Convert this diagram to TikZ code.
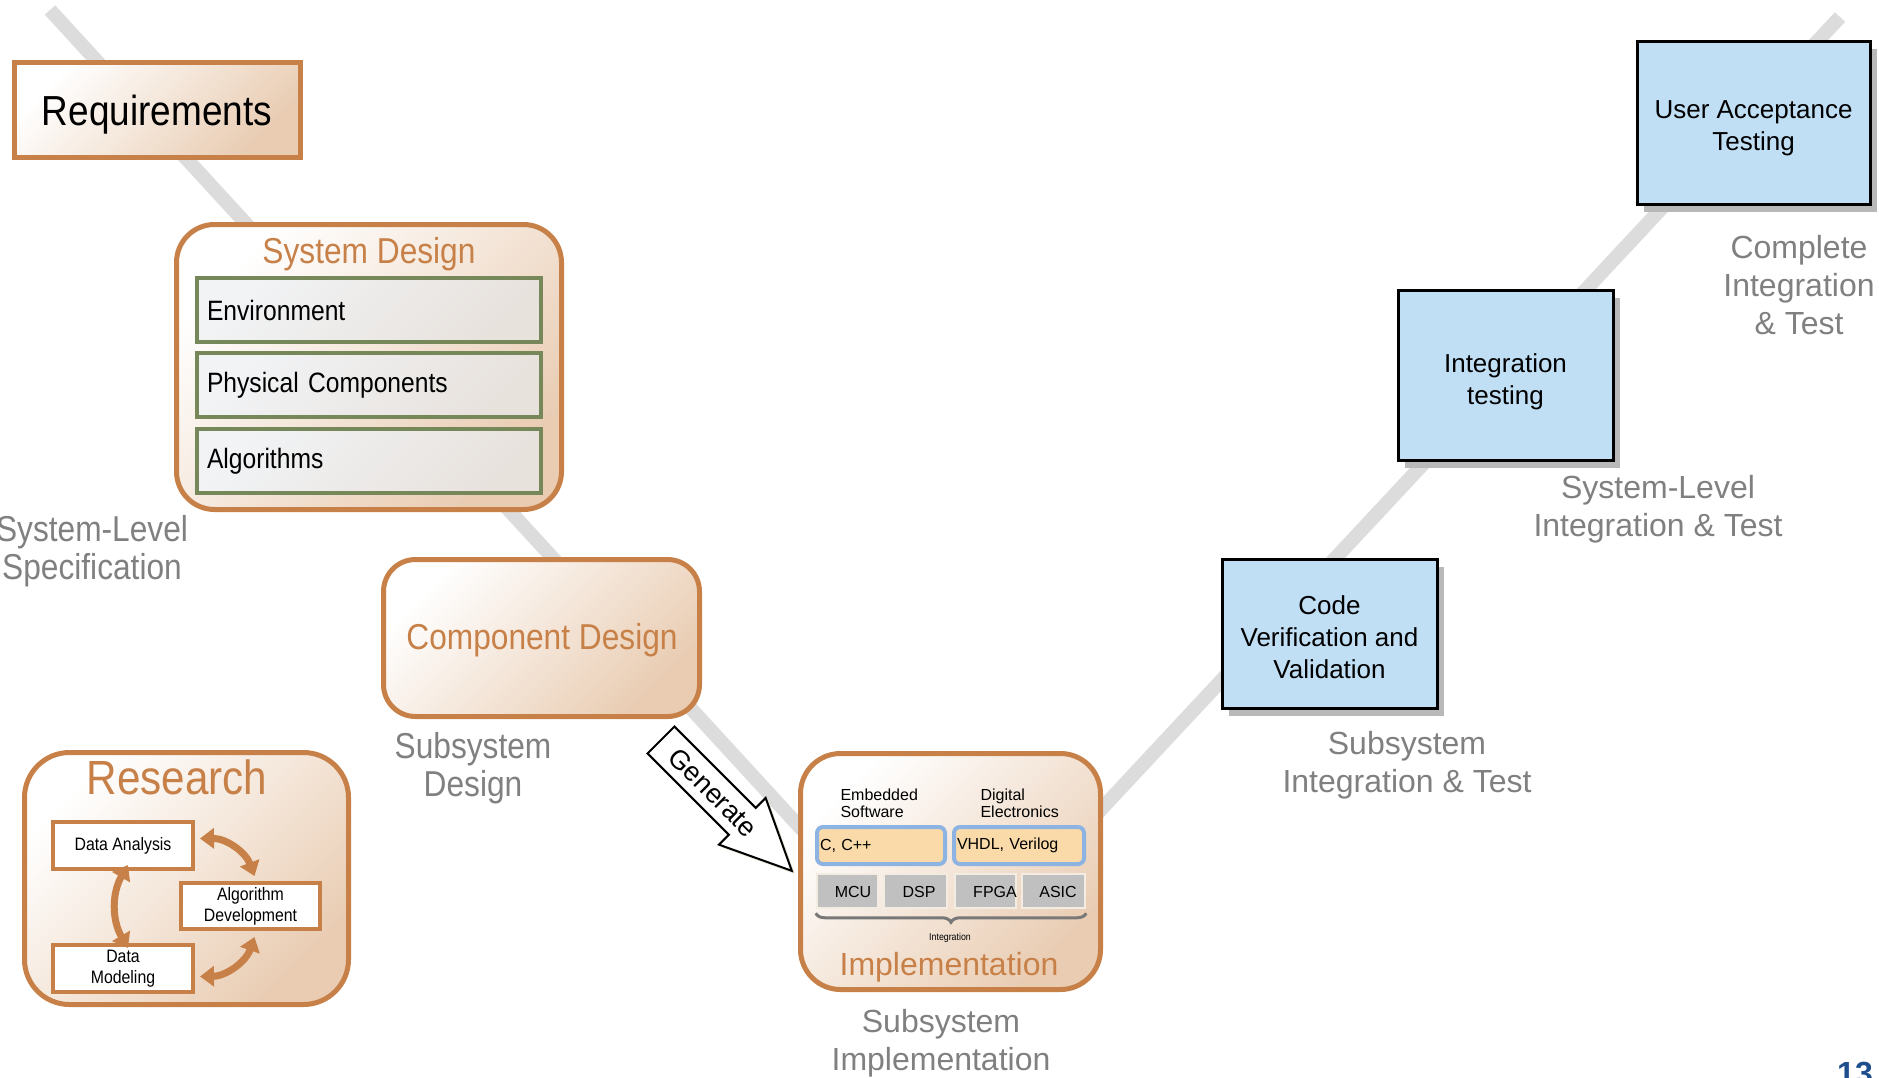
\documentclass[tikz,border=0pt]{standalone}
\usepackage{fontspec}
\setmainfont{Liberation Sans}
\newfontfamily\cond[FakeStretch=0.88]{Liberation Sans}
\usetikzlibrary{arrows.meta,shadows,decorations.pathreplacing}
\definecolor{orc}{RGB}{199,129,72}
\definecolor{tanc}{RGB}{233,204,178}
\definecolor{vgray}{RGB}{220,220,220}
\definecolor{lblgray}{RGB}{128,128,128}
\definecolor{grn}{RGB}{118,135,90}
\definecolor{innerfillA}{RGB}{241,243,245}
\definecolor{innerfillB}{RGB}{232,226,221}
\definecolor{bluefill}{RGB}{192,222,244}
\definecolor{codefill}{RGB}{250,218,168}
\definecolor{codeborder}{RGB}{141,179,226}
\definecolor{chipfill}{RGB}{192,192,192}
\definecolor{chipborder}{RGB}{242,236,226}
\definecolor{bracegray}{RGB}{120,120,120}
\definecolor{pagenum}{RGB}{31,78,140}
\definecolor{genshadow}{RGB}{230,226,210}
\begin{document}
\begin{tikzpicture}[x=1pt,y=-1pt,
  vline/.style={draw=vgray, line width=14pt},
  orbox/.style={draw=orc, line width=5pt, top color=white, bottom color=tanc, shading angle=45, inner sep=0pt},
  greenbox/.style={draw=grn, line width=4pt, top color=innerfillA, bottom color=innerfillB, shading angle=45,
     minimum height=64pt, inner xsep=10pt, inner ysep=0pt, text width=324pt, align=left,
     font={\cond\fontsize{28pt}{32pt}\selectfont}},
  resbox/.style={draw=orc, line width=4pt, fill=white, inner sep=0pt, align=center,
     font={\cond\fontsize{18pt}{21pt}\selectfont}},
  resarr/.style={draw=orc, line width=7pt, {Triangle[length=14pt,width=20pt]}-{Triangle[length=14pt,width=20pt]}},
  codebox/.style={draw=codeborder, line width=4pt, fill=codefill, rounded corners=6pt, minimum height=37pt,
     inner xsep=2pt, inner ysep=0pt, align=left, font={\fontsize{16pt}{19pt}\selectfont}},
  chip/.style={draw=chipborder, line width=2.5pt, fill=chipfill, minimum height=34pt, inner sep=0pt},
  chiptext/.style={font={\fontsize{16pt}{19pt}\selectfont}},
  bluebox/.style={draw=black, line width=3pt, fill=bluefill, align=center, inner sep=0pt,
     font={\fontsize{26pt}{32pt}\selectfont},
     drop shadow={shadow xshift=7pt, shadow yshift=-8pt, fill=black!28, opacity=1}},
  boxtext/.style={align=center, font={\fontsize{26pt}{32pt}\selectfont}},
  lbl/.style={text=lblgray, align=center, font={\fontsize{32pt}{38pt}\selectfont}},
  lblc/.style={text=lblgray, align=center, font={\cond\fontsize{36pt}{38pt}\selectfont}},
  otitle/.style={text=orc, font={\cond\fontsize{36pt}{40pt}\selectfont}},
  genarrow/.style={draw=black, line width=2pt, fill=white, line join=miter}
]
\useasboundingbox (0,0) rectangle (1879,1077);

% V shaped background line
\coordinate (vtopL) at (50,10);
\coordinate (vbot) at (941,981);
\coordinate (vtopR) at (1840,17);
\draw[vline] (vtopL) -- (vbot) -- (vtopR);

% Requirements
\node[orbox, minimum width=286pt, minimum height=95pt] (req) at (157,109.5) {};
\node[font={\cond\fontsize{42pt}{48pt}\selectfont}] (reqt) at (157,115) {Requirements};

% System Design
\node[orbox, rounded corners=38pt, minimum width=385pt, minimum height=285pt] (sysd) at (369,367) {};
\node[otitle] (sysdt) at (369,254) {System Design};
\node[greenbox] (env) at (369,310) {Environment};
\node[greenbox] (phys) at (369,385) {Physical Components};
\node[greenbox] (alg) at (369,461) {Algorithms};

% Component Design
\node[orbox, rounded corners=32pt, minimum width=316pt, minimum height=157pt] (comp) at (541.5,638) {};
\node[otitle] (compt) at (542,640) {Component Design};

% Research
\node[orbox, rounded corners=45pt, minimum width=324pt, minimum height=252pt] (res) at (186.5,878.5) {};
\node[text=orc, font={\cond\fontsize{48pt}{52pt}\selectfont}] (rest) at (177,777) {Research};
\node[resbox, minimum width=140pt, minimum height=47pt] (da) at (123,845.5) {Data Analysis};
\node[resbox, minimum width=139pt, minimum height=46pt] (ad) at (250.5,906) {Algorithm\\Development};
\node[resbox, minimum width=140pt, minimum height=47pt] (dm) at (123,968.5) {Data\\Modeling};
\draw[resarr] ([shift={(5,-7)}]da.east) to[bend left=35] ([shift={(4,-5)}]ad.north);
\draw[resarr] ([shift={(5,-6)}]da.south) to[bend right=30] ([shift={(5,5)}]dm.north);
\draw[resarr] ([shift={(4,6)}]ad.south) to[bend left=35] ([shift={(5,8)}]dm.east);

% Generate block arrow
\begin{scope}[shift={(664,743)},rotate=-45]
  \fill[genshadow] (0,-19) -- (115,-19) -- (115,-33) -- (185,0) -- (115,33) -- (115,19) -- (0,19) -- cycle;
\end{scope}
\begin{scope}[shift={(661,740)},rotate=-45]
  \draw[genarrow] (0,-19) -- (115,-19) -- (115,-33) -- (185,0) -- (115,33) -- (115,19) -- (0,19) -- cycle;
  \node[rotate=-45, font={\fontsize{27pt}{30pt}\selectfont}] (gen) at (74,0) {Generate};
\end{scope}

% Implementation
\node[orbox, rounded corners=40pt, minimum width=300pt, minimum height=236pt] (impl) at (950.5,871.5) {};
\node[anchor=west, align=left, font={\fontsize{16pt}{17pt}\selectfont}] (emb) at (837,803) {Embedded\\Software};
\node[anchor=west, align=left, font={\fontsize{16pt}{17pt}\selectfont}] (dig) at (977,803) {Digital\\Electronics};
\node[codebox, minimum width=128pt, text width=122pt] (ccpp) at (881,845.5) {C, C++};
\node[codebox, minimum width=130pt, text width=124pt] (vhdl) at (1019,845.5) {VHDL, Verilog};
\node[chip, minimum width=61pt] (mcu) at (847.5,891) {};
\node[chip, minimum width=63pt] (dsp) at (915.5,891) {};
\node[chip, minimum width=61pt] (fpga) at (985.5,891) {};
\node[chip, minimum width=63pt] (asic) at (1053.5,891) {};
\node[chiptext] (mcut) at (853,892) {MCU};
\node[chiptext] (dspt) at (919,892) {DSP};
\node[chiptext] (fpgat) at (995,892) {FPGA};
\node[chiptext] (asict) at (1058,892) {ASIC};
\draw[draw=bracegray, line width=3pt, decorate, decoration={brace, mirror, amplitude=9pt}]
  ([yshift=-4pt]mcu.south west) -- ([yshift=-4pt]asic.south east);
\node[font={\cond\fontsize{10pt}{12pt}\selectfont}] (integ) at (950,938) {Integration};
\node[text=orc, font={\fontsize{32pt}{36pt}\selectfont}] (implt) at (949,967) {Implementation};

% Right-hand testing boxes
\node[bluebox, minimum width=215pt, minimum height=149pt] (cvv) at (1329.5,633.5) {};
\node[boxtext] (cvvt) at (1329.5,637) {Code\\Verification and\\Validation};
\node[bluebox, minimum width=215pt, minimum height=170pt] (itest) at (1505.5,375) {};
\node[boxtext] (itestt) at (1505.5,382) {Integration\\testing};
\node[bluebox, minimum width=233pt, minimum height=163pt] (uat) at (1753.5,122.5) {};
\node[boxtext] (uatt) at (1753.5,128) {User Acceptance\\Testing};

% Gray level labels
\node[lblc] (l1) at (92,551) {System-Level\\Specification};
\node[lblc] (l2) at (473,768) {Subsystem\\Design};
\node[lbl] (l3) at (941,1043) {Subsystem\\Implementation};
\node[lbl] (l4) at (1407,765) {Subsystem\\Integration \& Test};
\node[lbl] (l5) at (1658,509) {System-Level\\Integration \& Test};
\node[lbl] (l6) at (1799,285) {Complete\\Integration\\\& Test};

% page number
\node[anchor=base, text=pagenum, font={\bfseries\fontsize{32pt}{36pt}\selectfont}] (pnum) at (1855,1084) {13};
\end{tikzpicture}
\end{document}
